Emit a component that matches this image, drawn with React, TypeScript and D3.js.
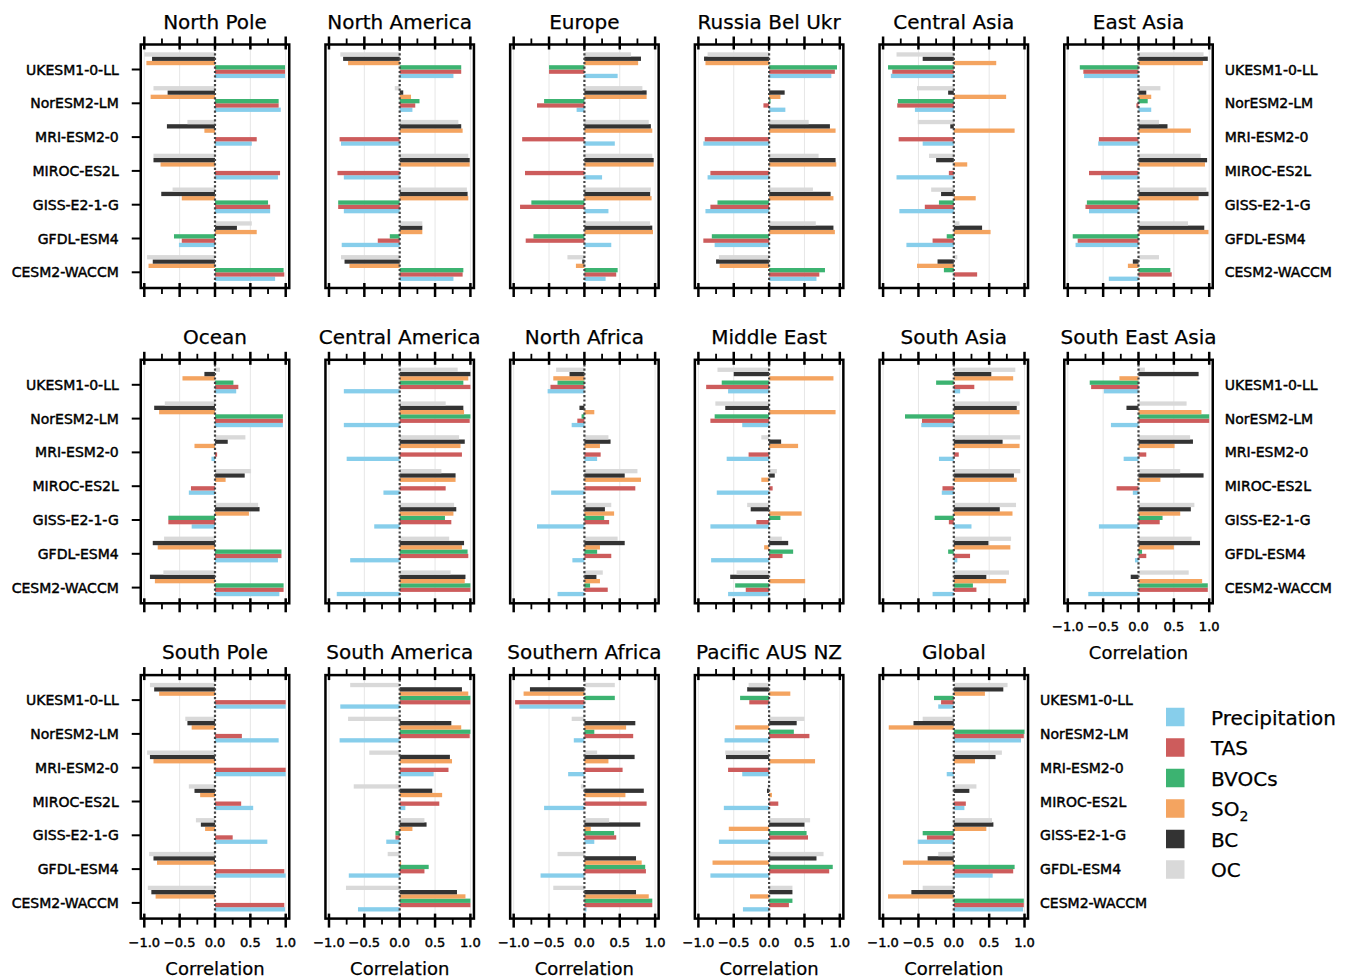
import React from 'react';
import * as d3 from 'd3';

// models, top to bottom in every panel
const models = ['UKESM1-0-LL', 'NorESM2-LM', 'MRI-ESM2-0', 'MIROC-ES2L', 'GISS-E2-1-G', 'GFDL-ESM4', 'CESM2-WACCM'];

// variables, in legend order
const variables = ['Precipitation', 'TAS', 'BVOCs', 'SO2', 'BC', 'OC'];
const colors = ['#87CEEB', '#CD5C5C', '#3CB371', '#F4A460', '#333333', '#D9D9D9'];

const majorTicks = [-1, -0.5, 0, 0.5, 1];
const minorTicks = [-0.75, -0.25, 0.25, 0.75];

// correlation per model (rows) and variable (cols: Prec, TAS, BVOCs, SO2, BC, OC)
const northPole = [
  [0.99, 0.99, 0.99, -0.97, -0.89, -1.0],
  [0.93, 0.9, 0.9, -0.91, -0.67, -0.87],
  [0.52, 0.59, 0.0, -0.15, -0.68, -0.39],
  [0.89, 0.92, 0.0, -0.77, -0.87, -0.87],
  [0.78, 0.78, 0.75, -0.47, -0.76, -0.6],
  [-0.51, -0.47, -0.58, 0.59, 0.31, 0.52],
  [0.85, 0.98, 0.97, -0.94, -0.88, -0.96],
];
const northAmerica = [
  [0.76, 0.87, 0.87, -0.73, -0.8, -0.84],
  [0.18, 0.22, 0.28, 0.16, 0.05, -0.07],
  [-0.83, -0.85, 0.0, 0.89, 0.87, 0.83],
  [-0.79, -0.88, 0.0, 0.99, 0.99, 0.97],
  [-0.79, -0.87, -0.87, 0.97, 0.96, 0.95],
  [-0.82, -0.31, -0.14, 0.32, 0.32, 0.32],
  [0.76, 0.89, 0.9, -0.71, -0.78, -0.83],
];
const europe = [
  [0.47, -0.5, -0.5, 0.76, 0.8, 0.66],
  [-0.11, -0.67, -0.57, 0.88, 0.88, 0.82],
  [0.43, -0.88, 0.0, 0.96, 0.94, 0.91],
  [0.25, -0.84, 0.0, 0.98, 0.98, 0.96],
  [0.34, -0.91, -0.75, 0.95, 0.93, 0.94],
  [0.38, -0.83, -0.72, 0.97, 0.96, 0.93],
  [0.3, 0.45, 0.47, -0.12, -0.03, -0.24],
];
const russiaBelUkr = [
  [0.88, 0.93, 0.96, -0.9, -0.92, -0.87],
  [0.23, -0.08, 0.02, 0.16, 0.22, -0.01],
  [-0.93, -0.91, 0.0, 0.94, 0.86, 0.56],
  [-0.87, -0.83, 0.0, 0.95, 0.94, 0.7],
  [-0.9, -0.83, -0.73, 0.91, 0.87, 0.62],
  [-0.77, -0.93, -0.81, 0.93, 0.91, 0.66],
  [0.67, 0.71, 0.79, -0.7, -0.75, -0.71],
];
const centralAsia = [
  [-0.89, -0.87, -0.93, 0.6, -0.44, -0.81],
  [-0.55, -0.8, -0.79, 0.74, -0.08, -0.52],
  [-0.44, -0.78, 0.0, 0.86, -0.05, -0.51],
  [-0.81, -0.07, 0.0, 0.19, -0.25, -0.35],
  [-0.77, -0.41, -0.21, 0.31, -0.18, -0.32],
  [-0.67, -0.3, -0.1, 0.52, 0.4, 0.08],
  [-0.01, 0.33, -0.14, -0.52, -0.23, 0.05],
];
const eastAsia = [
  [-0.77, -0.78, -0.83, 0.91, 0.98, 0.92],
  [0.18, -0.03, 0.13, 0.18, 0.11, 0.31],
  [-0.57, -0.56, 0.0, 0.74, 0.41, 0.29],
  [-0.53, -0.7, 0.0, 0.94, 0.97, 0.88],
  [-0.7, -0.75, -0.73, 0.85, 0.99, 0.96],
  [-0.89, -0.86, -0.93, 0.99, 0.93, 0.7],
  [-0.42, 0.47, 0.45, -0.15, -0.08, 0.29],
];
const ocean = [
  [0.3, 0.33, 0.26, -0.46, -0.15, 0.07],
  [0.96, 0.96, 0.96, -0.79, -0.86, -0.71],
  [-0.05, 0.03, 0.0, -0.29, 0.18, 0.43],
  [-0.37, -0.34, 0.0, 0.15, 0.42, 0.51],
  [-0.33, -0.66, -0.66, 0.48, 0.63, 0.61],
  [0.89, 0.94, 0.94, -0.81, -0.88, -0.72],
  [0.91, 0.97, 0.97, -0.85, -0.92, -0.73],
];
const centralAmerica = [
  [-0.79, 1.0, 0.9, 0.97, 1.0, 0.82],
  [-0.79, 0.99, 1.0, 0.91, 0.9, 0.65],
  [-0.75, 0.88, 0.0, 0.86, 0.92, 0.84],
  [-0.23, 0.65, 0.0, 0.79, 0.79, 0.59],
  [-0.36, 0.73, 0.64, 0.76, 0.8, 0.77],
  [-0.7, 0.97, 0.96, 0.88, 0.91, 0.7],
  [-0.89, 1.0, 1.0, 0.92, 0.93, 0.72],
];
const northAfrica = [
  [-0.52, -0.48, -0.38, -0.44, -0.21, -0.4],
  [-0.18, -0.1, -0.04, 0.14, -0.07, 0.0],
  [0.18, 0.23, 0.0, 0.22, 0.37, 0.34],
  [-0.47, 0.72, 0.0, 0.8, 0.57, 0.75],
  [-0.67, 0.35, 0.28, 0.42, 0.29, 0.38],
  [-0.17, 0.38, 0.18, 0.22, 0.57, 0.47],
  [-0.38, 0.33, 0.08, 0.22, 0.17, 0.26],
];
const middleEast = [
  [-0.58, -0.89, -0.67, 0.91, -0.5, -0.73],
  [-0.38, -0.83, -0.77, 0.94, -0.62, -0.76],
  [-0.6, -0.29, 0.0, 0.41, 0.17, -0.11],
  [-0.74, 0.05, 0.0, -0.11, 0.08, 0.11],
  [-0.83, -0.18, 0.16, 0.46, -0.26, -0.31],
  [-0.82, 0.19, 0.34, -0.07, 0.27, 0.18],
  [-0.58, -0.33, -0.48, 0.51, -0.55, -0.46],
];
const southAsia = [
  [0.09, 0.29, -0.25, 0.84, 0.53, 0.87],
  [-0.46, -0.45, -0.69, 0.93, 0.89, 0.93],
  [-0.21, 0.07, 0.0, 0.93, 0.69, 0.94],
  [-0.17, -0.16, 0.0, 0.89, 0.85, 0.94],
  [0.25, -0.07, -0.27, 0.83, 0.65, 0.88],
  [0.05, 0.23, -0.08, 0.8, 0.49, 0.81],
  [-0.3, 0.32, 0.27, 0.74, 0.46, 0.78],
];
const southEastAsia = [
  [-0.49, -0.67, -0.69, -0.27, 0.85, 0.09],
  [-0.39, 1.0, 1.0, 0.89, -0.17, 0.68],
  [-0.21, 0.11, 0.0, 0.51, 0.77, 0.73],
  [-0.08, -0.31, 0.0, 0.31, 0.92, 0.59],
  [-0.56, 0.3, 0.34, 0.59, 0.74, 0.79],
  [-0.05, 0.11, 0.05, 0.5, 0.87, 0.75],
  [-0.71, 0.98, 0.98, 0.9, -0.11, 0.71],
];
const southPole = [
  [1.0, 1.0, 0.0, -0.79, -0.86, -0.92],
  [0.9, 0.38, 0.0, -0.33, -0.39, -0.42],
  [1.0, 1.0, 0.0, -0.87, -0.92, -0.96],
  [0.54, 0.37, 0.0, -0.21, -0.29, -0.37],
  [0.74, 0.25, 0.0, -0.14, -0.2, -0.27],
  [1.0, 0.98, 0.0, -0.82, -0.87, -0.93],
  [0.99, 0.98, 0.0, -0.84, -0.9, -0.95],
];
const southAmerica = [
  [-0.84, 1.0, 1.0, 0.97, 0.88, -0.7],
  [-0.85, 0.99, 1.0, 0.87, 0.73, -0.73],
  [0.48, 0.69, 0.0, 0.74, 0.71, -0.43],
  [0.08, 0.56, 0.0, 0.6, 0.46, -0.65],
  [-0.19, -0.06, -0.06, 0.18, 0.38, 0.35],
  [-0.72, 0.35, 0.41, 0.02, 0.0, -0.17],
  [-0.59, 1.0, 1.0, 0.93, 0.81, -0.76],
];
const southernAfrica = [
  [-0.92, -0.98, 0.43, -0.86, -0.77, 0.43],
  [-0.15, 0.69, 0.14, 0.59, 0.72, -0.18],
  [-0.23, 0.54, 0.0, 0.34, 0.71, 0.18],
  [-0.57, 0.88, 0.0, 0.58, 0.84, -0.05],
  [0.14, 0.45, 0.42, 0.09, 0.79, 0.35],
  [-0.62, 0.87, 0.86, 0.81, 0.73, -0.38],
  [0.03, 0.96, 0.96, 0.91, 0.73, -0.44],
];
const pacificAusNz = [
  [-0.02, -0.28, -0.41, 0.3, -0.31, -0.29],
  [-0.63, 0.57, 0.35, -0.48, 0.39, 0.5],
  [-0.38, -0.58, 0.0, 0.65, -0.61, -0.62],
  [-0.64, 0.13, 0.0, 0.04, -0.03, -0.02],
  [-0.71, 0.55, 0.53, -0.57, 0.5, 0.58],
  [-0.83, 0.85, 0.9, -0.8, 0.67, 0.77],
  [-0.37, 0.28, 0.33, -0.27, 0.33, 0.33],
];
const global = [
  [-0.22, -0.18, -0.28, 0.44, 0.7, 0.76],
  [0.95, 0.99, 1.0, -0.92, -0.57, -0.44],
  [-0.1, -0.01, 0.0, 0.3, 0.59, 0.68],
  [0.15, 0.17, 0.0, 0.0, 0.22, 0.32],
  [-0.51, -0.38, -0.44, 0.46, 0.56, 0.54],
  [0.55, 0.84, 0.86, -0.72, -0.37, -0.22],
  [0.98, 0.99, 0.99, -0.93, -0.6, -0.44],
];

// [title, data, row, col, y labels side, show x axis labels]
const panels: [string, number[][], number, number, string, boolean][] = [
  ['North Pole', northPole, 0, 0, 'left', false],
  ['North America', northAmerica, 0, 1, '', false],
  ['Europe', europe, 0, 2, '', false],
  ['Russia Bel Ukr', russiaBelUkr, 0, 3, '', false],
  ['Central Asia', centralAsia, 0, 4, '', false],
  ['East Asia', eastAsia, 0, 5, 'right', false],
  ['Ocean', ocean, 1, 0, 'left', false],
  ['Central America', centralAmerica, 1, 1, '', false],
  ['North Africa', northAfrica, 1, 2, '', false],
  ['Middle East', middleEast, 1, 3, '', false],
  ['South Asia', southAsia, 1, 4, '', false],
  ['South East Asia', southEastAsia, 1, 5, 'right', true],
  ['South Pole', southPole, 2, 0, 'left', true],
  ['South America', southAmerica, 2, 1, '', true],
  ['Southern Africa', southernAfrica, 2, 2, '', true],
  ['Pacific AUS NZ', pacificAusNz, 2, 3, '', true],
  ['Global', global, 2, 4, 'right', true],
];

// layout
const colX0 = 215;
const colStep = 184.7;
const rowTop0 = 44.5;
const rowStep = 315.3;
const panelH = 243.5;
const halfW = 74.25;
const barH = 4.3;
const font = 'DejaVu Sans, sans-serif';
const fmt = d3.format('.1f');
// the reference text looks a little heavier than plain DejaVu
const heavy = { stroke: '#000', strokeWidth: 0.45 };

const Panel = ({ title, data, row, col, ylab, xlab }: {
  title: string; data: number[][]; row: number; col: number; ylab: string; xlab: boolean;
}) => {
  const cx = colX0 + col * colStep;
  const top = rowTop0 + row * rowStep;
  const bottom = top + panelH;
  const left = cx - halfW;
  const right = cx + halfW;

  const x = d3.scaleLinear().domain([-1.05, 1.05]).range([left, right]);
  const y = d3.scaleLinear().domain([0, models.length - 1]).range([top + 25, top + 25 + 6 * 33.8]);

  return (
    <g>
      <text x={cx} y={top - 16} textAnchor="middle" fontSize={20} fontFamily={font} stroke="#000" strokeWidth={0.25}>{title}</text>

      {/* faint grid */}
      {majorTicks.filter(t => t !== 0).map(t => (
        <line key={'g' + t} x1={x(t)} x2={x(t)} y1={top} y2={bottom} stroke="#e6e6e6" strokeWidth={1} />
      ))}

      {/* bars: OC on top of each group, precipitation at the bottom */}
      {data.map((vals, i) =>
        vals.map((v, j) => {
          const k = variables.length - 1 - j;
          const y0 = y(i) + (k - 4) * barH;
          return (
            <rect key={i + '-' + j} x={Math.min(x(0), x(v))} y={y0} width={Math.abs(x(v) - x(0))}
              height={barH} fill={colors[j]} />
          );
        })
      )}

      <line x1={x(0)} x2={x(0)} y1={top} y2={bottom} stroke="#444" strokeWidth={2.2} strokeDasharray="2.2,2.2" />

      <rect x={left} y={top} width={right - left} height={panelH} fill="none" stroke="#000" strokeWidth={2.5} />

      {/* top and bottom ticks */}
      {majorTicks.map(t => (
        <g key={'M' + t}>
          <line x1={x(t)} x2={x(t)} y1={top - 8} y2={top + 5} stroke="#000" strokeWidth={2.5} />
          <line x1={x(t)} x2={x(t)} y1={bottom - 5} y2={bottom + 9} stroke="#000" strokeWidth={2.5} />
        </g>
      ))}
      {minorTicks.map(t => (
        <g key={'m' + t}>
          <line x1={x(t)} x2={x(t)} y1={top - 6} y2={top} stroke="#000" strokeWidth={1.8} />
          <line x1={x(t)} x2={x(t)} y1={bottom} y2={bottom + 6} stroke="#000" strokeWidth={1.8} />
        </g>
      ))}

      {ylab === 'left' && models.map((m, i) => (
        <g key={m}>
          <line x1={left - 9} x2={left} y1={y(i)} y2={y(i)} stroke="#000" strokeWidth={2} />
          <text x={left - 22} y={y(i)} textAnchor="end" dominantBaseline="central" fontSize={14} fontFamily={font} {...heavy}>{m}</text>
        </g>
      ))}
      {ylab === 'right' && models.map((m, i) => (
        <text key={m} x={right + 12} y={y(i)} textAnchor="start" dominantBaseline="central" fontSize={14} fontFamily={font} {...heavy}>{m}</text>
      ))}

      {xlab && (
        <g>
          {majorTicks.map(t => (
            <text key={'l' + t} x={x(t)} y={bottom + 28} textAnchor="middle" fontSize={13} fontFamily={font} {...heavy}>{fmt(t)}</text>
          ))}
          <text x={cx} y={bottom + 56} textAnchor="middle" fontSize={18} fontFamily={font} stroke="#000" strokeWidth={0.25}>Correlation</text>
        </g>
      )}
    </g>
  );
};

const Legend = () => (
  <g>
    {variables.map((v, j) => {
      const cy = 717 + j * 30.5;
      return (
        <g key={v}>
          <rect x={1166} y={cy - 9.25} width={18.5} height={18.5} fill={colors[j]} />
          <text x={1211} y={cy + 7.5} fontSize={20} fontFamily={font} stroke="#000" strokeWidth={0.25}>
            {v === 'SO2' ? (<>SO<tspan fontSize={14} dy={5}>2</tspan></>) : v}
          </text>
        </g>
      );
    })}
  </g>
);

export default function App() {
  return (
    <svg width={1353} height={980} style={{ position: 'absolute', left: 0, top: 0, background: '#fff' }}>
      {panels.map(([title, data, row, col, ylab, xlab]) => (
        <Panel key={title} title={title} data={data} row={row} col={col} ylab={ylab} xlab={xlab} />
      ))}
      <Legend />
    </svg>
  );
}
